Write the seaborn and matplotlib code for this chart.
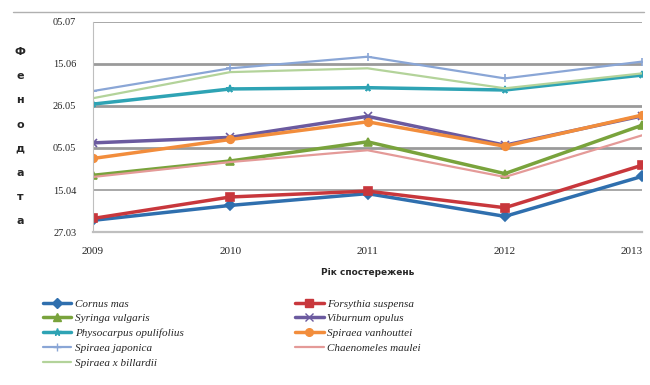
import numpy as np
import pandas as pd
import seaborn as sns
from matplotlib import pyplot as plt
from matplotlib.lines import Line2D

# Years of observation and phenodates (days after 27.03)
years = [2009, 2010, 2011, 2012, 2013]
cornus_mas = [5.6, 12.7, 18.3, 7.5, 26.5]
forsythia_suspensa = [6.5, 16.7, 19.5, 11.6, 31.8]
syringa_vulgaris = [27.0, 33.8, 42.9, 27.8, 50.8]
viburnum_opulus = [42.4, 45.0, 55.0, 41.3, 55.2]
physocarpus_opulifolius = [60.8, 68.0, 68.6, 67.5, 74.6]
spiraea_vanhouttei = [35.0, 44.0, 52.4, 40.8, 55.6]
spiraea_japonica = [67.0, 77.8, 83.3, 73.0, 81.0]
chaenomeles_maulei = [26.2, 33.3, 38.9, 26.2, 46.0]
spiraea_billardii = [63.6, 76.0, 77.8, 68.3, 75.4]

y_ticks = [0, 20, 40, 60, 80, 100]
y_tick_labels = ["27.03", "15.04", "05.05", "26.05", "15.06", "05.07"]

series = [
    ("Cornus mas", cornus_mas, "#2f6fae", "D", 2.5),
    ("Forsythia suspensa", forsythia_suspensa, "#c8373c", "s", 2.5),
    ("Syringa vulgaris", syringa_vulgaris, "#79a33c", "^", 2.5),
    ("Viburnum opulus", viburnum_opulus, "#6b5a9f", "x", 2.5),
    ("Physocarpus opulifolius", physocarpus_opulifolius, "#2ea3b4", "*", 2.5),
    ("Spiraea vanhouttei", spiraea_vanhouttei, "#f28d3c", "o", 2.5),
    ("Spiraea japonica", spiraea_japonica, "#8aa6d6", "+", 1.6),
    ("Chaenomeles maulei", chaenomeles_maulei, "#e49a98", None, 1.6),
    ("Spiraea x billardii", spiraea_billardii, "#b3d39a", None, 1.6),
]

rows = []
for name, vals, *_ in series:
    for yr, v in zip(years, vals):
        rows.append({"year": yr, "day": v, "species": name})
df = pd.DataFrame(rows)

sns.set_style("white")
plt.rcParams['font.family'] = ['Liberation Serif', 'DejaVu Serif']

fig = plt.figure(figsize=(6.5, 3.85), dpi=100)
ax = fig.add_axes([0.143, 0.397, 0.845, 0.547])

# gridlines
for t in y_ticks[1:]:
    ax.axhline(t, color="#9a9a9a", lw=2.0 if t in (40, 60, 80) else 1.2, zorder=0)

handles = {}
for name, vals, color, marker, lw in series:
    sub = df[df["species"] == name]
    sns.lineplot(data=sub, x="year", y="day", ax=ax, color=color, lw=lw,
                 marker=marker, markersize=5.5 if marker else 0,
                 markeredgecolor=color, markeredgewidth=1.2, legend=False)
    handles[name] = Line2D([0], [0], color=color, lw=lw, marker=marker,
                           markersize=5.5, markeredgecolor=color, label=name)

ax.set_xlim(2009, 2013)
ax.set_ylim(0, 100)
ax.set_xticks(years)
ax.set_xticklabels([str(y) for y in years], fontsize=8)
ax.get_xticklabels()[-1].set_ha("right")
ax.set_yticks(y_ticks)
ax.set_yticklabels(y_tick_labels, fontsize=7.5)
ax.tick_params(axis="x", length=3, color="#808080", pad=8)
ax.tick_params(axis="y", length=0, pad=12)
for s in ["top", "right"]:
    ax.spines[s].set_visible(False)
ax.spines["left"].set_color("#bfbfbf")
ax.spines["bottom"].set_color("#bfbfbf")
ax.spines["bottom"].set_linewidth(1.6)
ax.set_xlabel("Рік спостережень", fontsize=6.5, fontweight="bold",
              family=['DejaVu Sans'], labelpad=8)
ax.set_ylabel("")

# vertical stacked axis title
for i, ch in enumerate("Фенодата"):
    fig.text(0.031, 1 - (52 + i * 24.2) / 385, ch, fontsize=8, fontweight="bold",
             ha="center", va="center", family=['DejaVu Sans'])

# thin line on top of the page
fig.add_artist(Line2D([0.02, 0.99], [0.968, 0.968], color="#b0b0b0", lw=1.0))

legend_order = ["Cornus mas", "Syringa vulgaris", "Physocarpus opulifolius",
                "Spiraea japonica", "Spiraea x billardii",
                "Forsythia suspensa", "Viburnum opulus", "Spiraea vanhouttei",
                "Chaenomeles maulei"]
leg = fig.legend(handles=[handles[n] for n in legend_order], ncol=2,
                 loc="upper left", bbox_to_anchor=(0.05, 0.25), frameon=False,
                 prop={"style": "italic", "size": 8},
                 handlelength=2.6, handletextpad=0.3, columnspacing=10,
                 labelspacing=0.45)

fig.savefig("out.png", dpi=100)
